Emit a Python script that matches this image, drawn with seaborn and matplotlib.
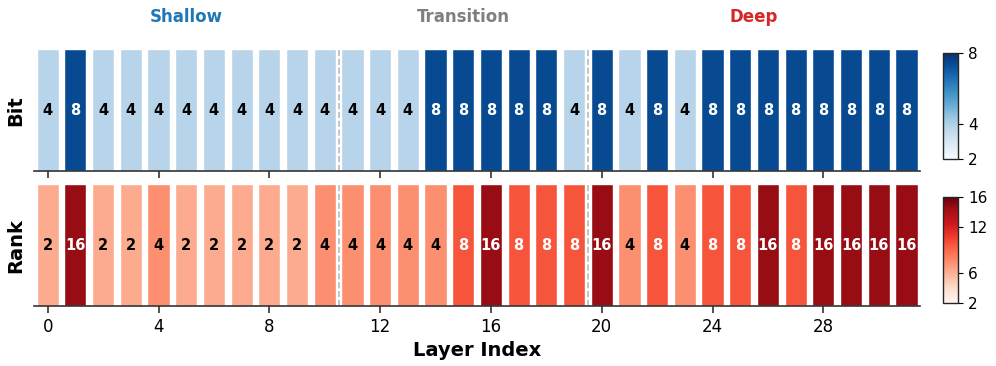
import numpy as np
import matplotlib
matplotlib.use("Agg")
import matplotlib.pyplot as plt
import seaborn as sns
from matplotlib.colors import Normalize

# per-layer config
layers = list(range(32))
bits = [4, 8, 4, 4, 4, 4, 4, 4, 4, 4, 4, 4, 4, 4, 8, 8, 8, 8, 8, 4,
        8, 4, 8, 4, 8, 8, 8, 8, 8, 8, 8, 8]
ranks = [2, 16, 2, 2, 4, 2, 2, 2, 2, 2, 4, 4, 4, 4, 4, 8, 16, 8, 8, 8,
         16, 4, 8, 4, 8, 8, 16, 8, 16, 16, 16, 16]
sections = ["Shallow", "Transition", "Deep"]
section_centers = [5, 15, 25.5]
section_colors = ["#1f77b4", "#7f7f7f", "#d62728"]
boundaries = [10.5, 19.5]
bit_ticks = [2, 4, 8]
rank_ticks = [2, 6, 12, 16]

sns.set_style("white")
plt.rcParams['font.family'] = ['DejaVu Sans']
plt.rcParams['text.color'] = 'black'
plt.rcParams['axes.labelcolor'] = 'black'
plt.rcParams['xtick.color'] = 'black'
plt.rcParams['ytick.color'] = 'black'

fig = plt.figure(figsize=(9.96, 3.66), dpi=100)
ax1 = fig.add_axes([0.034, 0.533, 0.89, 0.332])
ax2 = fig.add_axes([0.034, 0.164, 0.89, 0.332])
cax1 = fig.add_axes([0.947, 0.5656, 0.015, 0.29])
cax2 = fig.add_axes([0.947, 0.172, 0.015, 0.29])


def draw_row(ax, vals, cmap_name, cax, cb_range, cb_ticks, label):
    cmap = plt.get_cmap(cmap_name)
    lo, hi = min(vals), max(vals)
    keys = [str(i) for i in layers]
    pal = {}
    txt_cols = []
    for k, v in zip(keys, vals):
        t = (v - lo) / (hi - lo)
        pal[k] = cmap(0.3 + 0.6 * t)
        txt_cols.append("white" if t > 0.35 else "black")
    sns.barplot(x=keys, y=[1] * len(vals), hue=keys, palette=pal, legend=False,
                width=0.8, saturation=1, edgecolor="white", linewidth=1, ax=ax)
    for i, v in enumerate(vals):
        ax.text(i, 0.5, str(v), ha="center", va="center", fontsize=10.5,
                fontweight="bold", color=txt_cols[i])
    for b in boundaries:
        ax.axvline(b, color="#bbbbbb", linestyle="--", linewidth=1.2)
    ax.set_xlim(-0.5, 31.5)
    ax.set_ylim(0, 1)
    ax.set_yticks([])
    ax.set_ylabel(label, fontsize=14, fontweight="bold", labelpad=6)
    ax.set_xlabel("")
    for s in ["top", "left", "right"]:
        ax.spines[s].set_visible(False)
    ax.spines["bottom"].set_color("#333333")
    ax.spines["bottom"].set_linewidth(1.2)
    ax.set_xticks(range(0, 32, 4))
    ax.tick_params(axis="x", bottom=True, length=5, width=1.2, labelsize=12,
                   color="#333333")
    sm = plt.cm.ScalarMappable(norm=Normalize(*cb_range), cmap=cmap)
    cb = fig.colorbar(sm, cax=cax, ticks=cb_ticks)
    cb.ax.tick_params(labelsize=11)
    cb.outline.set_linewidth(1)


draw_row(ax1, bits, "Blues", cax1, (2, 8), bit_ticks, "Bit")
draw_row(ax2, ranks, "Reds", cax2, (2, 16), rank_ticks, "Rank")

ax1.set_xticklabels([])
ax2.set_xticklabels([str(i) for i in range(0, 32, 4)])
ax2.set_xlabel("Layer Index", fontsize=14, fontweight="bold")

for name, cx, col in zip(sections, section_centers, section_colors):
    ax1.text(cx, 1.27, name, ha="center", va="center", fontsize=12,
             fontweight="bold", color=col, transform=ax1.get_xaxis_transform())

fig.savefig("out.png", dpi=100)
